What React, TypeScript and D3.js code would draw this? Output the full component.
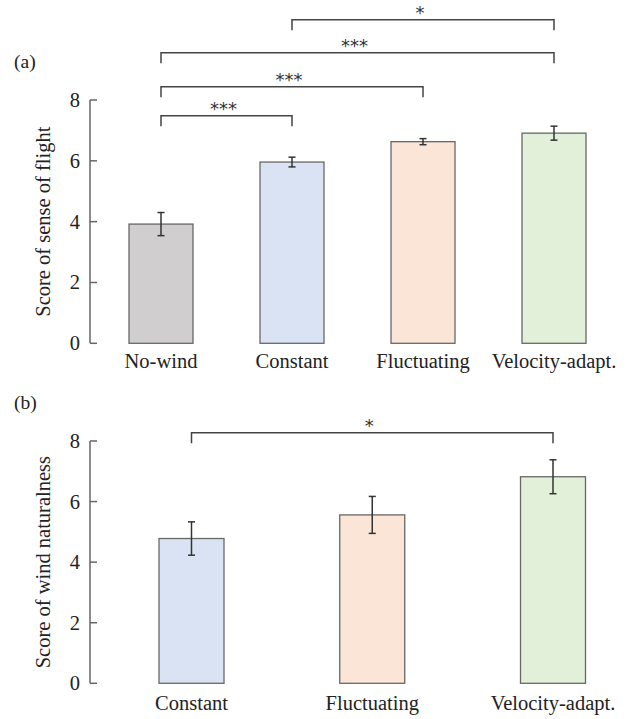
import React from "react";
import * as d3 from "d3";

// ---- Data ----
const categoriesA = ["No-wind", "Constant", "Fluctuating", "Velocity-adapt."];
const meansA = [3.92, 5.96, 6.63, 6.91];
const errorsA = [0.38, 0.16, 0.1, 0.23];
const fillsA = ["#d0cece", "#dae3f3", "#fbe5d6", "#e2f0d9"];

const categoriesB = ["Constant", "Fluctuating", "Velocity-adapt."];
const meansB = [4.78, 5.56, 6.82];
const errorsB = [0.55, 0.61, 0.56];
const fillsB = ["#dae3f3", "#fbe5d6", "#e2f0d9"];

const yTicks = [0, 2, 4, 6, 8];

const bracketsA = [
  { from: "No-wind", to: "Constant", label: "***" },
  { from: "No-wind", to: "Fluctuating", label: "***" },
  { from: "No-wind", to: "Velocity-adapt.", label: "***" },
  { from: "Constant", to: "Velocity-adapt.", label: "*" },
];
const bracketsB = [{ from: "Constant", to: "Velocity-adapt.", label: "*" }];

const FONT = "'Liberation Serif', 'Times New Roman', serif";
const STAR_FONT = "'DejaVu Sans', sans-serif";
const AXIS = "#666";
const BAR_STROKE = "#686868";
const ERR = "#333";
const BRK = "#444";

type PanelProps = {
  cats: string[];
  means: number[];
  errs: number[];
  fills: string[];
  brackets: { from: string; to: string; label: string }[];
  bracketY: number[];
  xRange: [number, number];
  yRange: [number, number];
  barW: number;
  title: string;
  tag: string;
  tagY: number;
  labelDy: number;
};

function Panel(p: PanelProps) {
  const x = d3.scalePoint<string>().domain(p.cats).range(p.xRange);
  const y = d3.scaleLinear().domain([0, 8]).range(p.yRange);
  const axisX = 90;
  const y0 = y(0);
  const midY = (y(0) + y(8)) / 2;
  return (
    <g>
      <text x={14} y={p.tagY} fontFamily={FONT} fontSize={19.5} fill="#222">
        {p.tag}
      </text>
      {/* y axis */}
      <line x1={axisX} x2={axisX} y1={y(0)} y2={y(8)} stroke={AXIS} strokeWidth={1.5} />
      {yTicks.map((t) => (
        <g key={t}>
          <line x1={axisX} x2={axisX + 7} y1={y(t)} y2={y(t)} stroke={AXIS} strokeWidth={1.5} />
          <text
            x={axisX - 10}
            y={y(t)}
            dy="0.34em"
            textAnchor="end"
            fontFamily={FONT}
            fontSize={20.5}
            fill="#222"
          >
            {t}
          </text>
        </g>
      ))}
      <text
        transform={`translate(50,${midY}) rotate(-90)`}
        textAnchor="middle"
        fontFamily={FONT}
        fontSize={20.5}
        fill="#222"
      >
        {p.title}
      </text>
      {/* bars */}
      {p.cats.map((c, i) => {
        const cx = x(c)!;
        const top = y(p.means[i]);
        const hi = y(p.means[i] + p.errs[i]);
        const lo = y(p.means[i] - p.errs[i]);
        return (
          <g key={c}>
            <rect
              x={cx - p.barW / 2}
              y={top}
              width={p.barW}
              height={y0 - top}
              fill={p.fills[i]}
              stroke={BAR_STROKE}
              strokeWidth={1.3}
            />
            <line x1={cx} x2={cx} y1={hi} y2={lo} stroke={ERR} strokeWidth={1.5} />
            <line x1={cx - 3.5} x2={cx + 3.5} y1={hi} y2={hi} stroke={ERR} strokeWidth={1.5} />
            <line x1={cx - 3.5} x2={cx + 3.5} y1={lo} y2={lo} stroke={ERR} strokeWidth={1.5} />
            <text
              x={cx}
              y={y0 + p.labelDy}
              textAnchor="middle"
              fontFamily={FONT}
              fontSize={20.5}
              fill="#222"
            >
              {c}
            </text>
          </g>
        );
      })}
      {/* significance brackets */}
      {p.brackets.map((b, i) => {
        const x1 = x(b.from)!;
        const x2 = x(b.to)!;
        const by = p.bracketY[i];
        return (
          <g key={i}>
            <path
              d={`M${x1},${by + 10.5}V${by}H${x2}V${by + 10.5}`}
              fill="none"
              stroke={BRK}
              strokeWidth={1.5}
            />
            <text
              x={(x1 + x2) / 2 - 3}
              y={by - 1}
              textAnchor="middle"
              fontFamily={STAR_FONT}
              fontSize={18}
              fill="#333"
            >
              {b.label}
            </text>
          </g>
        );
      })}
    </g>
  );
}

export default function App() {
  return (
    <svg
      width={627}
      height={719}
      style={{ position: "absolute", left: 0, top: 0, background: "#fff" }}
    >
      <Panel
        cats={categoriesA}
        means={meansA}
        errs={errorsA}
        fills={fillsA}
        brackets={bracketsA}
        bracketY={[115.7, 86.7, 52.7, 19.7]}
        xRange={[161, 554]}
        yRange={[343.3, 100]}
        barW={64}
        title="Score of sense of flight"
        tag="(a)"
        tagY={68}
        labelDy={25}
      />
      <Panel
        cats={categoriesB}
        means={meansB}
        errs={errorsB}
        fills={fillsB}
        brackets={bracketsB}
        bracketY={[432.7]}
        xRange={[191.5, 553]}
        yRange={[683.3, 441]}
        barW={65}
        title="Score of wind naturalness"
        tag="(b)"
        tagY={409}
        labelDy={27}
      />
    </svg>
  );
}
